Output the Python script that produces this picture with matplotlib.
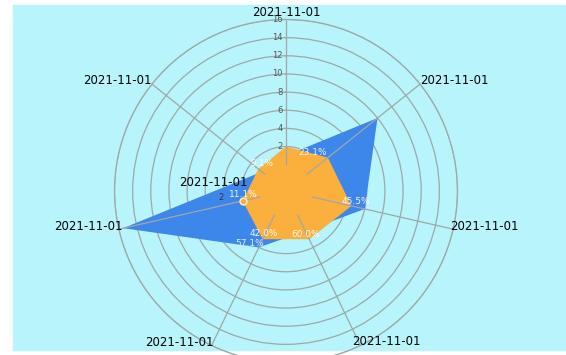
import numpy as np
import matplotlib.pyplot as plt
from matplotlib.patches import Rectangle
from matplotlib.transforms import offset_copy

# data (clockwise from the top axis)
categories = ['2021-11-01'] * 7
blue_values = [1, 10, 6, 2, 4, 15.5, 0.5]
orange_values = [2, 3, 4.5, 3, 3, 2, 1]
orange_labels = ['', '23.1%', '45.5%', '60.0%', '42.0%', '11.1%', '9.1%']
blue_labels = ['', '', '', '', '57.1%', '', '']
ring_ticks = [0, 2, 4, 6, 8, 10, 12, 14, 16]

W, H = 566, 355
grid_color = '#9ea8a8'
blue = '#3d86ea'
orange = '#fbb03d'

fig = plt.figure(figsize=(W / 100, H / 100), dpi=100)
fig.patch.set_facecolor('white')
fig.add_artist(Rectangle((13 / W, 1 - 350 / H), 1 - 13 / W, 345 / H,
                         transform=fig.transFigure, color='#b7f4fb',
                         zorder=-5))

# polar axes centred at (286, 191) px, outer ring radius 171.5 px;
# the centre of the chart sits a little below zero
cx, cy, R = 286, 191, 171.5
ax = fig.add_axes([(cx - R) / W, 1 - (cy + R) / H, 2 * R / W, 2 * R / H],
                  projection='polar')
ax.set_facecolor('none')
ax.set_theta_zero_location('N')
ax.set_theta_direction(-1)

angles = np.arange(len(categories)) * 2 * np.pi / len(categories)
th = np.append(angles, angles[0])

ax.fill(th, blue_values + blue_values[:1], color=blue, lw=0, zorder=1)
ax.fill(th, orange_values + orange_values[:1], color=orange, lw=0, zorder=2)
ax.vlines(angles, 0, 16, color=grid_color, lw=0.9, zorder=3)
ax.plot(angles[5], orange_values[5], 'o', ms=5, mfc=orange, mec='#fff0c8',
        mew=1, zorder=5)

ax.set_xticks(angles)
ax.set_xticklabels([])
ax.xaxis.grid(False)
ax.set_yticks(ring_ticks)
ax.set_yticklabels([])
ax.yaxis.grid(True, color=grid_color, lw=0.9)
ax.tick_params(length=0)
ax.set_axisbelow(True)
ax.spines['polar'].set_color(grid_color)
ax.spines['polar'].set_linewidth(0.9)
ax.set_ylim(-2.9, 16)


def off(dx, dy):
    return offset_copy(ax.transData, fig=fig, x=dx, y=dy, units='dots')


# radial tick labels along the top axis
for v in ring_ticks[1:]:
    ax.text(0, v, str(v), transform=off(-3, 0), ha='right', va='center',
            fontsize=6, color='#555555', zorder=4)

# axis names
name_ha = ['center', 'left', 'left', 'left', 'right', 'right', 'right']
name_va = ['bottom', 'center', 'center', 'center', 'center', 'center', 'center']
name_off = [(0, 0), (0, 4), (-3, 3), (-8, 4), (2, 3), (4, 3), (0, 4)]
for a, name, ha, va, (dx, dy) in zip(angles, categories, name_ha, name_va,
                                     name_off):
    ax.text(a, 16, name, transform=off(dx, dy), ha=ha, va=va,
            fontsize=8.5, color='black', zorder=7)

# value labels
orange_off = [(0, 6), (-15, 5.5), (4, 4), (-3, 5), (1, 6), (1, 6), (4, 5)]
for a, v, lab, (dx, dy) in zip(angles, orange_values, orange_labels,
                               orange_off):
    if lab:
        ax.text(a, v, lab, transform=off(dx, dy), ha='center', va='center',
                fontsize=6.5, color='white', alpha=0.9, zorder=6)
for a, v, lab in zip(angles, blue_values, blue_labels):
    if lab:
        ax.text(a, v, lab, transform=off(-9, 4), ha='center', va='center',
                fontsize=6.5, color='#dcecff', zorder=6)

# stray tooltip-like label in the middle left
fig.text(213 / W, 1 - 183 / H, '2021-11-01', ha='center', va='center',
         fontsize=8.5, color='black', zorder=8)
fig.text(221 / W, 1 - 198 / H, '2', ha='center', va='center',
         fontsize=6, color='#333333', zorder=8)

fig.savefig('out.png', dpi=100)
